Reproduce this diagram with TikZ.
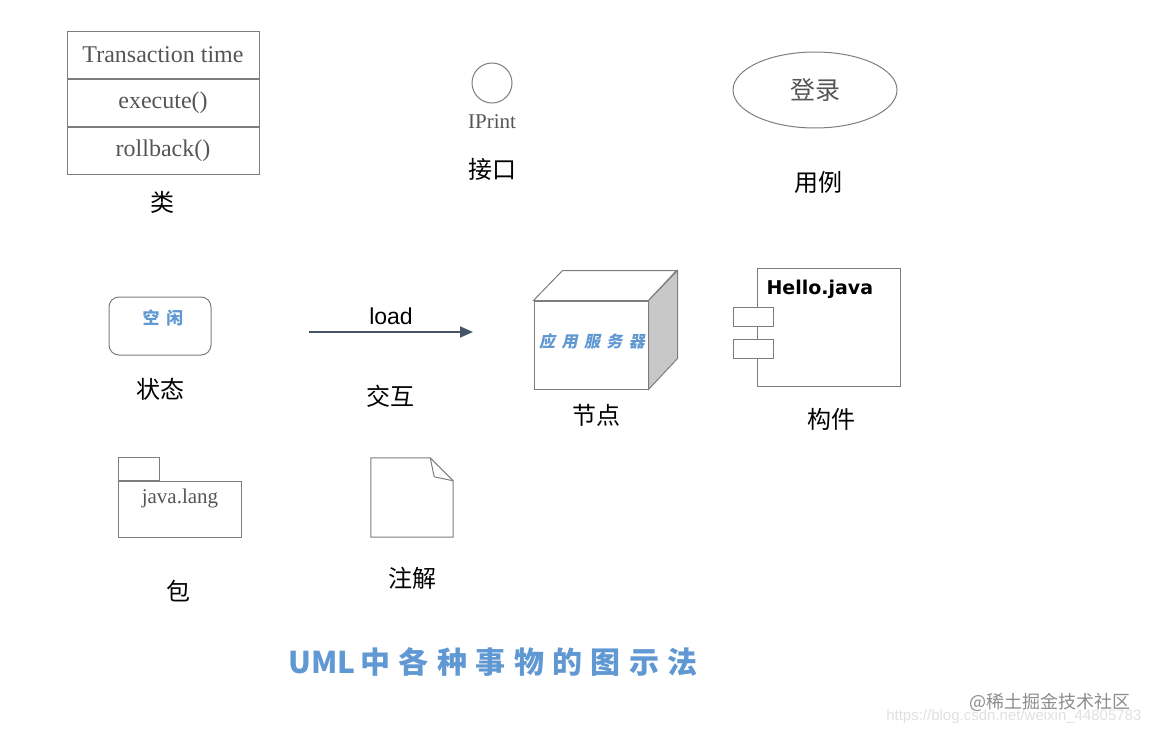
\documentclass[tikz,border=0pt]{standalone}
\usepackage{fontspec}
\setmainfont{Liberation Serif}
\newfontfamily\cjk{Noto Sans CJK SC}
\newfontfamily\cjkwide[LetterSpace=40]{Noto Sans CJK SC}
\newfontfamily\cjkslant[LetterSpace=40, FakeSlant=0.2]{Noto Sans CJK SC}
\newfontfamily\titlefont[LetterSpace=28]{Noto Sans CJK SC}
\newfontfamily\arialf{Liberation Sans}
\newfontfamily\codefont{DejaVu Sans}
\usetikzlibrary{arrows.meta, positioning, shapes.geometric}
\definecolor{linegray}{RGB}{125,125,125}
\definecolor{textgray}{RGB}{85,85,85}
\definecolor{umlblue}{RGB}{95,152,210}
\definecolor{arrowslate}{RGB}{70,84,104}
\definecolor{sidegray}{RGB}{200,200,200}
\tikzset{
  thing/.style={draw=linegray, line width=1pt},
  member/.style={thing, minimum width=192pt, minimum height=47pt, inner sep=0pt, text=textgray, font=\fontsize{24}{27}\selectfont},
  serifname/.style={text=textgray, font=\fontsize{21}{24}\selectfont},
  caption/.style={font=\cjk\fontsize{24}{28}\selectfont},
  bluetag/.style={text=umlblue, font=\cjkwide\bfseries\fontsize{17}{19}\selectfont},
  flow/.style={-{Triangle[length=13pt, width=11pt]}, line width=1.6pt, draw=arrowslate},
}

\begin{document}
\begin{tikzpicture}[x=1pt, y=-1pt]
  \useasboundingbox (0,0) rectangle (1150,733);

  \node[member, anchor=north] (clsname) at (163,31) {Transaction time};
  \node[member, below=0pt of clsname] (clsexec) {execute()};
  \node[member, below=0pt of clsexec] (clsundo) {rollback()};
  \node[caption] (clscap) at (162,202) {类};

  \node[thing, circle, minimum size=40pt, inner sep=0pt] (iface) at (492,83) {};
  \node[serifname] (ifacename) at (492,122) {IPrint};
  \node[caption] (ifacecap) at (492,169) {接口};

  \node[thing, ellipse, minimum width=164pt, minimum height=76pt, text=textgray, font=\cjk\fontsize{25}{28}\selectfont] (usecase) at (815,90) {登录};
  \node[caption] (usecasecap) at (818,182) {用例};

  \node[thing, rounded corners=10pt, minimum width=102pt, minimum height=58pt] (idle) at (160,326) {};
  \node[bluetag] (idletext) at (163,318) {空闲};
  \node[caption] (idlecap) at (160,389) {状态};

  \coordinate (loadfrom) at (309,332);
  \coordinate (loadto) at (473,332);
  \draw[flow] (loadfrom) -- node[above=3pt, font=\arialf\fontsize{23}{26}\selectfont] (loadtext) {load} (loadto);
  \node[caption] (loadcap) at (390,396) {交互};

  \node[thing, fill=white, minimum width=114pt, minimum height=88pt, inner sep=0pt] (srvfront) at (591,345) {};
  \draw[thing, fill=white] (srvfront.north west) -- ++(29,-30) -- ++(114,0) -- (srvfront.north east) -- cycle;
  \draw[thing, fill=sidegray] (srvfront.north east) -- ++(29,-30) -- ++(0,88) -- (srvfront.south east) -- cycle;
  \node[bluetag, font=\cjkslant\bfseries\fontsize{16}{18}\selectfont] (srvtext) at (592,341) {应用服务器};
  \node[caption] (srvcap) at (596,415) {节点};

  \node[thing, minimum width=143pt, minimum height=118pt] (comp) at (828.5,327) {};
  \node[anchor=west, font=\codefont\bfseries\fontsize{19}{21}\selectfont] (compname) at (763,289) {Hello.java};
  \node[thing, fill=white, minimum width=40pt, minimum height=19pt, inner sep=0pt] (porta) at (753,317) {};
  \node[thing, fill=white, minimum width=40pt, minimum height=19pt, inner sep=0pt] (portb) at (753,348.5) {};
  \node[caption] (compcap) at (831,419) {构件};

  \node[thing, minimum width=123pt, minimum height=56pt] (pkg) at (179.5,509) {};
  \node[thing, minimum width=41pt, minimum height=23pt, inner sep=0pt, anchor=south west] (pkgtab) at (pkg.north west) {};
  \node[serifname] (pkgname) at (180,498) {java.lang};
  \node[caption] (pkgcap) at (178,591) {包};

  \node[minimum width=82pt, minimum height=79pt, inner sep=0pt] (memo) at (412,497.5) {};
  \draw[thing, line join=round] (memo.south west) -- (memo.north west) -- ([xshift=-23pt]memo.north east)
    -- ([yshift=-23pt]memo.north east) -- (memo.south east) -- cycle;
  \draw[thing, line join=round] ([xshift=-23pt]memo.north east) -- ([xshift=-19pt, yshift=-19pt]memo.north east)
    -- ([yshift=-23pt]memo.north east);
  \node[caption] (memocap) at (412,578) {注解};

  \node[text=umlblue, font=\bfseries\fontsize{30}{33}\selectfont] (title) at (493,662) {{\cjk\itshape UML}\,{\titlefont 中各种事物的图示法}};

  \node[anchor=east, text=black!12, font=\arialf\fontsize{15}{17}\selectfont] (wmurl) at (1145,717) {https://blog.csdn.net/weixin\_44805783};
  \node[anchor=east, text=black!45, font=\cjk\fontsize{18}{20}\selectfont] (wmark) at (1134,702) {@稀土掘金技术社区};
\end{tikzpicture}
\end{document}
